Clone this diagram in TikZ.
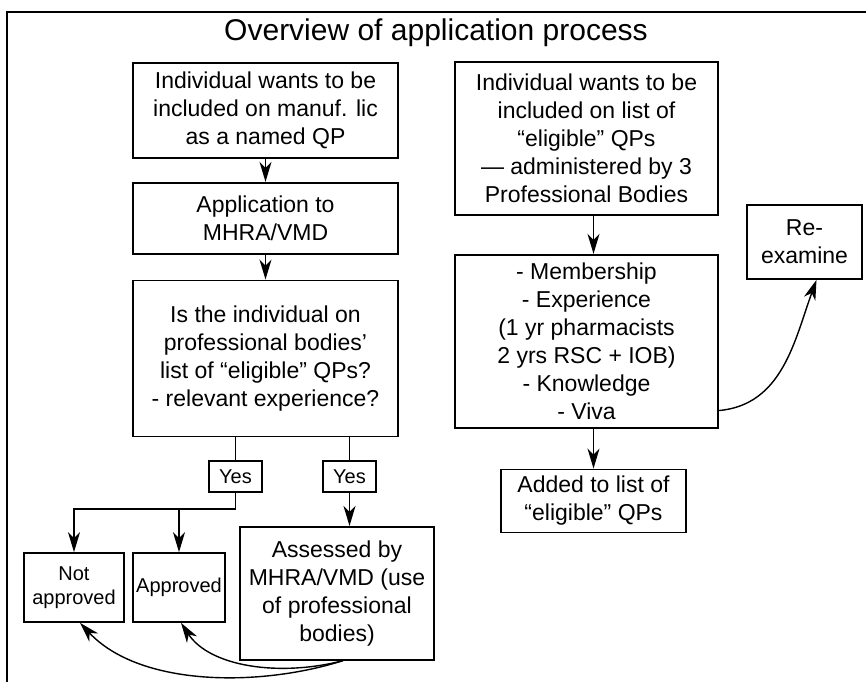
\documentclass[tikz,border=0pt]{standalone}
\usepackage{fontspec}
\setmainfont{Liberation Sans}
\usetikzlibrary{arrows.meta, positioning}
\tikzset{
  every picture/.style={line width=1.4pt},
  box/.style={draw, line width=1.7pt, align=center, inner sep=2pt, font=\fontsize{23}{28}\selectfont},
  smallbox/.style={box, font=\fontsize{20}{24}\selectfont},
  arrow/.style={-{Stealth[length=20pt, width=12pt, inset=6pt]}, line width=1.4pt},
  title/.style={font=\fontsize{30}{34}\selectfont},
}

\begin{document}
\begin{tikzpicture}[x=1pt, y=1pt]
  \useasboundingbox (0,0) rectangle (866,682);
  \tikzset{leftbox/.style={box, minimum width=265pt}, rightbox/.style={box, minimum width=263pt}}
  % frame and heading
  \draw[line width=2.5pt] (7,0) -- (7,670) -- (866,670);
  \node[title, anchor=base] (head) at (436,641) {Overview of application process};
  % left column
  \node[leftbox, minimum height=95pt] (wantlic) at (265.5,571.5) {Individual wants to be\\included on manuf. lic\\as a named QP};
  \node[leftbox, minimum height=71pt, below=23pt of wantlic] (appl) {Application to\\MHRA/VMD};
  \node[leftbox, minimum height=156pt, below=25pt of appl] (check) {Is the individual on\\professional bodies’\\list of “eligible” QPs?\\- relevant experience?};
  \node[smallbox, minimum width=53pt, minimum height=31pt, below=23pt of check.south, xshift=-30pt] (yes1) {Yes};
  \node[smallbox, minimum width=53pt, minimum height=31pt, below=23pt of check.south, xshift=84pt] (yes2) {Yes};
  \node[smallbox, minimum width=100pt, minimum height=69pt] (notap) at (74,94.5) {Not\\approved};
  \node[smallbox, minimum width=92pt, minimum height=69pt] (approved) at (179,94.5) {Approved};
  \node[box, minimum width=194pt, minimum height=133pt, inner sep=1pt, below=33pt of yes2, xshift=-12.5pt] (assess) {Assessed by\\MHRA/VMD (use\\of professional\\bodies)};
  \coordinate (split) at ([yshift=-16pt]yes1.south);
  % right column
  \node[rightbox, minimum height=153pt] (wantlist) at (586.5,543.5) {Individual wants to be\\included on list of\\“eligible” QPs\\— administered by 3\\Professional Bodies};
  \node[rightbox, minimum height=173pt, below=38pt of wantlist] (exam) {- Membership\\- Experience\\(1 yr pharmacists\\2 yrs RSC + IOB)\\- Knowledge\\- Viva};
  \node[box, minimum width=185pt, minimum height=63pt, below=40pt of exam, xshift=7pt] (added) {Added to list of\\“eligible” QPs};
  \node[box, minimum width=115pt, minimum height=74pt] (reexam) at (804.5,440) {Re-\\examine};
  % connectors
  \draw[arrow] (wantlic) -- (appl);
  \draw[arrow] (appl) -- (check);
  \draw (check.south -| yes1) -- (yes1);
  \draw (check.south -| yes2) -- (yes2);
  \draw[arrow] (yes1.south) -- (split) -| (notap);
  \draw[arrow] (split) -| (approved);
  \draw[arrow] (yes2.south) -- (yes2.south |- assess.north);
  \draw[arrow] ([xshift=6pt]assess.south) .. controls (260,-5) and (140,-5) .. ([xshift=6pt]notap.south);
  \draw[arrow] ([xshift=6pt]assess.south) .. controls (280,5) and (210,15) .. ([xshift=2pt]approved.south);
  \draw[arrow] (wantlist.south -| added) -- (exam.north -| added);
  \draw[arrow] (exam.south -| added) -- (added);
  \draw[arrow] ([yshift=18pt]exam.south east) to[out=5, in=-110] ([xshift=12pt]reexam.south);
\end{tikzpicture}
\end{document}
